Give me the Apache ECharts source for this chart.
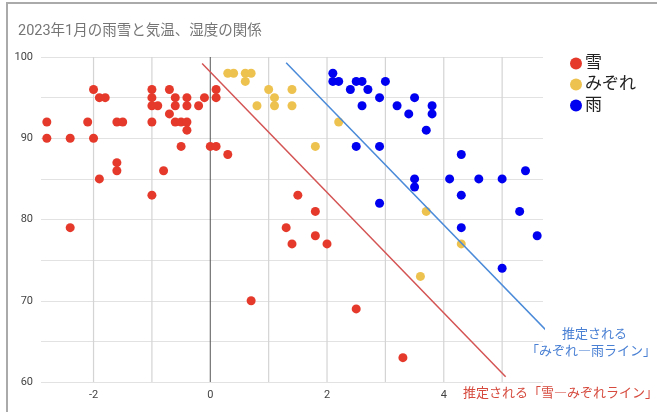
<!DOCTYPE html>
<html>
<head>
<meta charset="utf-8">
<script src="https://cdn.jsdelivr.net/npm/echarts@6/dist/echarts.min.js"></script>
<style>
  html, body { margin: 0; padding: 0; background: #fff; }
  #chart { width: 657px; height: 412px; }
</style>
</head>
<body>
<div id="chart"></div>
<script>
// 気温(x) と 湿度(y)
const snow = [
  [-2.8, 92], [-2.8, 90], [-2.4, 90], [-2.4, 79], [-2.1, 92], [-2.0, 96], [-2.0, 90],
  [-1.9, 95], [-1.8, 95], [-1.9, 85], [-1.6, 92], [-1.5, 92], [-1.6, 87], [-1.6, 86],
  [-1.0, 96], [-1.0, 95], [-1.0, 94], [-0.9, 94], [-1.0, 92], [-1.0, 83], [-0.8, 86],
  [-0.7, 96], [-0.6, 95], [-0.6, 94], [-0.7, 93], [-0.6, 92], [-0.5, 92], [-0.4, 92],
  [-0.4, 95], [-0.4, 94], [-0.4, 91], [-0.5, 89], [-0.2, 94], [-0.1, 95], [0.1, 96],
  [0.1, 95], [0.0, 89], [0.1, 89], [0.3, 88], [0.7, 70], [1.3, 79], [1.4, 77],
  [1.5, 83], [1.8, 81], [1.8, 78], [2.0, 77], [2.5, 69], [3.3, 63]
];
const sleet = [
  [0.3, 98], [0.4, 98], [0.6, 98], [0.7, 98], [0.6, 97], [0.8, 94], [1.0, 96],
  [1.1, 95], [1.1, 94], [1.4, 96], [1.4, 94], [1.8, 89], [2.2, 92], [3.7, 81],
  [4.3, 77], [3.6, 73]
];
const rain = [
  [2.1, 98], [2.1, 97], [2.2, 97], [2.4, 96], [2.5, 97], [2.6, 97], [2.7, 96],
  [3.0, 97], [2.6, 94], [2.9, 95], [3.2, 94], [3.5, 95], [3.4, 93], [3.8, 94],
  [3.8, 93], [3.7, 91], [2.5, 89], [2.9, 89], [4.3, 88], [3.5, 85], [3.5, 84],
  [4.1, 85], [4.6, 85], [5.0, 85], [5.4, 86], [4.3, 83], [2.9, 82], [5.3, 81],
  [4.3, 79], [5.6, 78], [5.0, 74]
];
// 手書きの推定ライン
const snowSleetLine = [[-0.14, 99.2], [5.06, 60.65]];
const sleetRainLine = [[1.3, 99.3], [5.75, 66.4]];

const xLabels = [-2, 0, 2, 4];
const xGrid = [-2, -1, 1, 2, 3, 4, 5];
const yMin = 60, yMax = 100;

const chart = echarts.init(document.getElementById('chart'));

// 縦の補助線
const gridSeries = xGrid.map(v => ({
  type: 'line',
  data: [[v, yMin], [v, yMax]],
  showSymbol: false,
  silent: true,
  z: 1,
  lineStyle: { color: '#d4d4d4', width: 1.2 }
}));
gridSeries.push({
  type: 'line',
  data: [[0, yMin], [0, yMax]],
  showSymbol: false,
  silent: true,
  z: 1,
  lineStyle: { color: '#555', width: 1 }
});

const option = {
  animation: false,
  textStyle: { fontFamily: 'Roboto, "Noto Sans CJK JP", sans-serif' },
  title: {
    text: '2023年1月の雨雪と気温、湿度の関係',
    left: 13,
    top: 19,
    textStyle: { fontSize: 14.5, fontWeight: 'normal', color: '#757575' }
  },
  legend: {
    data: ['雪', 'みぞれ', '雨'],
    orient: 'vertical',
    left: 565,
    top: 50,
    itemGap: 4,
    itemWidth: 12,
    itemHeight: 12,
    icon: 'circle',
    textStyle: { fontSize: 17, color: '#222', padding: [0, 0, 0, -2] }
  },
  grid: { left: 41, right: 114, top: 57, bottom: 30, containLabel: false },
  xAxis: {
    type: 'value',
    min: -2.9,
    max: 5.7,
    axisLine: { show: false },
    axisTick: { show: false },
    splitLine: { show: false },
    axisLabel: { customValues: xLabels, color: '#444', fontSize: 11, margin: 8 }
  },
  yAxis: {
    type: 'value',
    min: yMin,
    max: yMax,
    interval: 5,
    axisLine: { show: false },
    axisTick: { show: false },
    splitLine: { lineStyle: { color: '#e2e2e2', width: 1 } },
    axisLabel: {
      color: '#444',
      fontSize: 11,
      margin: 8,
      formatter: v => (v % 10 === 0 ? v : '')
    }
  },
  graphic: [
    {
      type: 'polyline',
      shape: { points: [[7, 420], [7, 3], [670, 3]] },
      style: { stroke: '#aaaaaa', lineWidth: 2, fill: null },
      silent: true
    },
    {
      type: 'text', left: 562, top: 327,
      style: { text: '推定される', fill: '#4a80d4', fontSize: 13, fontFamily: '"Noto Sans CJK JP", sans-serif' }
    },
    {
      type: 'text', left: 526, top: 344,
      style: { text: '「みぞれ―雨ライン」', fill: '#4a80d4', fontSize: 13, fontFamily: '"Noto Sans CJK JP", sans-serif' }
    },
    {
      type: 'text', left: 463, top: 386,
      style: { text: '推定される「雪―みぞれライン」', fill: '#d64a3e', fontSize: 13, fontFamily: '"Noto Sans CJK JP", sans-serif' }
    }
  ],
  series: gridSeries.concat([
    {
      name: '雪',
      type: 'scatter',
      data: snow,
      symbolSize: 9,
      itemStyle: { color: '#e5392b', opacity: 1 },
      z: 3
    },
    {
      name: 'みぞれ',
      type: 'scatter',
      data: sleet,
      symbolSize: 9,
      itemStyle: { color: '#eec24f', opacity: 1 },
      z: 3
    },
    {
      name: '雨',
      type: 'scatter',
      data: rain,
      symbolSize: 9,
      itemStyle: { color: '#0000f0', opacity: 1 },
      z: 3
    },
    {
      name: 'snowSleet',
      type: 'line',
      data: snowSleetLine,
      showSymbol: false,
      clip: false,
      lineStyle: { color: '#d45353', width: 1.5 },
      z: 4,
      silent: true
    },
    {
      name: 'sleetRain',
      type: 'line',
      data: sleetRainLine,
      showSymbol: false,
      clip: false,
      lineStyle: { color: '#4a8ad8', width: 1.5 },
      z: 4,
      silent: true
    }
  ])
};

chart.setOption(option);
</script>
</body>
</html>
